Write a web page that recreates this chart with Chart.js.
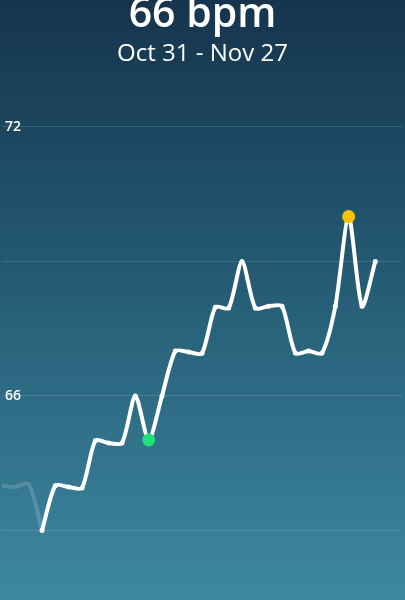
<!DOCTYPE html>
<html>
<head>
<meta charset="utf-8">
<script src="https://cdn.jsdelivr.net/npm/chart.js@4"></script>
<style>
  html, body { margin: 0; padding: 0; }
  body {
    width: 405px; height: 600px; overflow: hidden; position: relative;
    background: linear-gradient(to bottom, #16344d 0%, #245a73 45%, #3d88a0 100%);
    font-family: "Open Sans", sans-serif; color: #fff;
  }
  #wrap { position: absolute; left: 0; top: 0; width: 405px; height: 600px; }
  .head { position: absolute; left: 0; width: 405px; text-align: center; white-space: nowrap; }
  #value { top: -17px; font-size: 41px; font-weight: 600; }
  #range { top: 35px; font-size: 24px; font-weight: 400; }
</style>
</head>
<body>
<div id="wrap"><canvas id="hr" width="405" height="600"></canvas></div>
<div class="head" id="value">66 bpm</div>
<div class="head" id="range">Oct 31 - Nov 27</div>
<script>
// days shown on the x axis (Oct 28 .. Nov 27)
const days = ['Oct 28', 'Oct 29', 'Oct 30', 'Oct 31', 'Nov 1', 'Nov 2', 'Nov 3', 'Nov 4',
  'Nov 5', 'Nov 6', 'Nov 7', 'Nov 8', 'Nov 9', 'Nov 10', 'Nov 11', 'Nov 12', 'Nov 13',
  'Nov 14', 'Nov 15', 'Nov 16', 'Nov 17', 'Nov 18', 'Nov 19', 'Nov 20', 'Nov 21',
  'Nov 22', 'Nov 23', 'Nov 24', 'Nov 25', 'Nov 26', 'Nov 27']

// previous period, drawn faded
const previousBpm = [64, 63.97, 64.04, 63]

// resting heart rate for the selected range
const restingBpm = [null, null, null, 63, 64, 63.97, 63.95, 65, 64.95, 64.95, 66, 65.02,
  66, 67, 66.98, 66.95, 67.98, 67.96, 69, 67.96, 68, 68, 66.96, 67, 66.96, 68, 70, 68, 69]

const yTicks = [63, 66, 69, 72]
const labelledTicks = [66, 72]

const lowIndex = 11
const highIndex = 26

const ctx = document.getElementById('hr')

const pointColors = restingBpm.map((v, i) => {
  if (i === lowIndex) return '#1fe07b'
  if (i === highIndex) return '#f8c200'
  return '#ffffff'
})
const pointSizes = restingBpm.map((v, i) => (i === lowIndex || i === highIndex ? 6.5 : 2.5))

new Chart(ctx, {
  type: 'line',
  data: {
    labels: days,
    datasets: [
      {
        label: 'Resting heart rate',
        data: restingBpm,
        borderColor: '#ffffff',
        borderWidth: 4,
        tension: 0.25,
        pointRadius: pointSizes,
        pointBackgroundColor: pointColors,
        pointBorderWidth: 0,
        borderCapStyle: 'round',
        borderJoinStyle: 'round',
      },
      {
        label: 'Previous',
        data: previousBpm,
        borderColor: 'rgba(255,255,255,0.16)',
        borderWidth: 4,
        tension: 0.25,
        pointRadius: 0,
      },
    ],
  },
  options: {
    responsive: false,
    animation: false,
    maintainAspectRatio: false,
    devicePixelRatio: 1,
    layout: { autoPadding: false, padding: { left: 2, right: 3, top: 0, bottom: 0 } },
    plugins: {
      legend: { display: false },
      tooltip: { enabled: false },
    },
    scales: {
      x: {
        display: false,
        offset: false,
      },
      y: {
        min: 61.45,
        max: 74.83,
        afterBuildTicks: (scale) => {
          scale.ticks = yTicks.map((v) => ({ value: v }))
        },
        afterFit: (scale) => {
          // labels sit inside the plot, so the axis takes no room
          scale.width = 0
          scale.paddingTop = 0
          scale.paddingBottom = 0
          scale.paddingLeft = 0
          scale.paddingRight = 0
        },
        border: { display: false },
        grid: { color: 'rgba(255,255,255,0.13)', lineWidth: 1, drawTicks: false },
        ticks: {
          mirror: true,
          padding: 3,
          color: '#ffffff',
          font: { family: 'Open Sans', size: 14, weight: '600' },
          callback: (v) => (labelledTicks.includes(v) ? String(v) : ''),
        },
      },
    },
  },
})
</script>
</body>
</html>
